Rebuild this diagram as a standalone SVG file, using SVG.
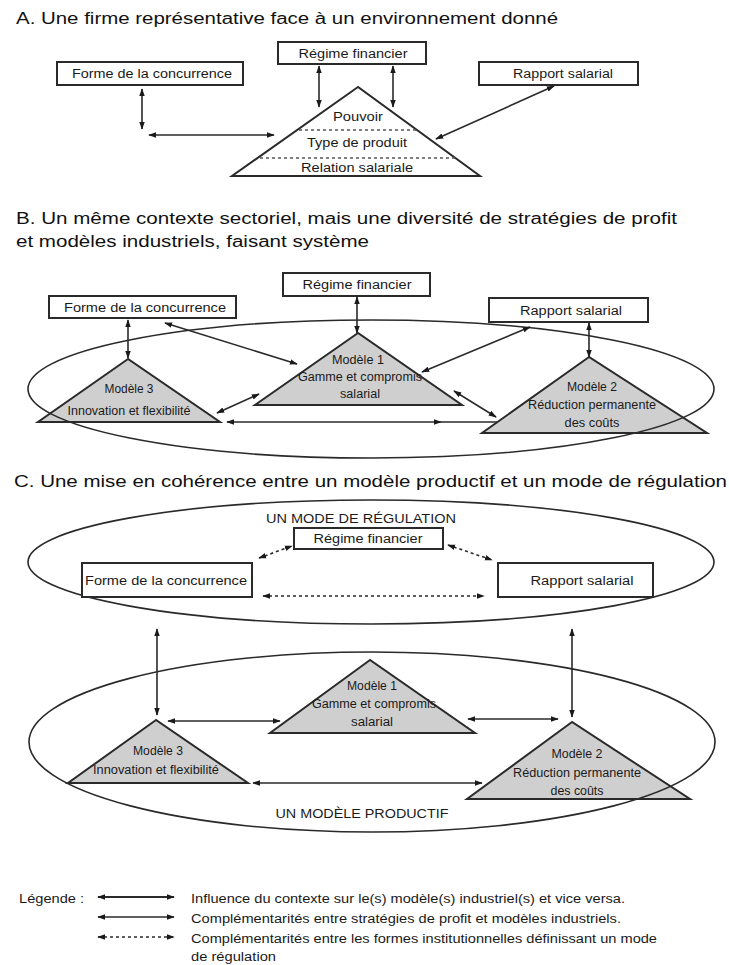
<svg xmlns="http://www.w3.org/2000/svg" width="729" height="965" viewBox="0 0 729 965">
<style>
text{font-family:"Liberation Sans Narrow","Liberation Sans",Arial,sans-serif;fill:#1a1a1a;}
.title{font-size:16px;fill:#111;}
.lbl{font-size:12.5px;text-anchor:middle;}
.leg{font-size:12.5px;}
.box{fill:#fff;stroke:#2a2a2a;stroke-width:2;}
.tri{fill:#fff;stroke:#2a2a2a;stroke-width:2;stroke-linejoin:miter;}
.tri.g{fill:#cfcfcf;}
.ell{fill:none;stroke:#2a2a2a;stroke-width:1.6;}
.dot{stroke:#555;stroke-width:1.3;stroke-dasharray:3 3;fill:none;}
.arr{stroke:#2a2a2a;stroke-width:1.6;fill:none;marker-start:url(#ah);marker-end:url(#ah);}
.arr.d{stroke-dasharray:3 3;}
.ln{stroke:#2a2a2a;stroke-width:1.6;fill:none;}
</style>
<defs>
<marker id="ah" viewBox="0 0 10 10" refX="9" refY="5" markerWidth="8" markerHeight="8" markerUnits="userSpaceOnUse" orient="auto-start-reverse">
<path d="M0,1.5 L10,5 L0,8.5 z" fill="#1a1a1a"/>
</marker>
</defs>

<!-- Section A -->
<g id="titleA"><text class="title" x="16" y="24" textLength="542" lengthAdjust="spacingAndGlyphs">A. Une firme représentative face à un environnement donné</text></g>
<g id="A-regime"><rect class="box" x="278" y="42" width="148" height="22"/><text class="lbl" x="353" y="58" textLength="109" lengthAdjust="spacingAndGlyphs">Régime financier</text></g>
<g id="A-forme"><rect class="box" x="57" y="62" width="186" height="23"/><text class="lbl" x="152" y="78" textLength="160" lengthAdjust="spacingAndGlyphs">Forme de la concurrence</text></g>
<g id="A-rapport"><rect class="box" x="479" y="62" width="159" height="23"/><text class="lbl" x="563" y="78" textLength="100" lengthAdjust="spacingAndGlyphs">Rapport salarial</text></g>
<g id="A-firme">
<polygon class="tri" points="358,87 232,176 480,176"/>
<line class="dot" x1="299" y1="130" x2="417" y2="130"/>
<line class="dot" x1="260" y1="158" x2="456" y2="158"/>
<text class="lbl" x="358" y="121" textLength="50" lengthAdjust="spacingAndGlyphs">Pouvoir</text>
<text class="lbl" x="357" y="147" textLength="100" lengthAdjust="spacingAndGlyphs">Type de produit</text>
<text class="lbl" x="357" y="172" textLength="112" lengthAdjust="spacingAndGlyphs">Relation salariale</text>
</g>
<g id="A-connectors">
<line class="arr" x1="142" y1="89" x2="142" y2="129"/>
<line class="arr" x1="149" y1="135" x2="274" y2="135"/>
<line class="arr" x1="319" y1="66" x2="319" y2="107"/>
<line class="arr" x1="393" y1="66" x2="393" y2="107"/>
<line class="arr" x1="554" y1="86" x2="436" y2="139"/>
</g>

<!-- Section B -->
<g id="titleB">
<text class="title" x="16" y="224" textLength="661" lengthAdjust="spacingAndGlyphs">B. Un même contexte sectoriel, mais une diversité de stratégies de profit</text>
<text class="title" x="16" y="247" textLength="353" lengthAdjust="spacingAndGlyphs">et modèles industriels, faisant système</text>
</g>
<g id="B-regime"><rect class="box" x="283" y="273" width="147" height="23"/><text class="lbl" x="357" y="289" textLength="109" lengthAdjust="spacingAndGlyphs">Régime financier</text></g>
<g id="B-forme"><rect class="box" x="49" y="296" width="187" height="22"/><text class="lbl" x="145" y="312" textLength="162" lengthAdjust="spacingAndGlyphs">Forme de la concurrence</text></g>
<g id="B-rapport"><rect class="box" x="489" y="298" width="159" height="24"/><text class="lbl" x="571" y="315" textLength="102" lengthAdjust="spacingAndGlyphs">Rapport salarial</text></g>
<g id="B-modele1">
<polygon class="tri g" points="358,333 255,405 462,405"/>
<text class="lbl" x="358" y="364" textLength="52" lengthAdjust="spacingAndGlyphs">Modèle 1</text>
<text class="lbl" x="360" y="381" textLength="124" lengthAdjust="spacingAndGlyphs">Gamme et compromis</text>
<text class="lbl" x="360" y="398" textLength="40" lengthAdjust="spacingAndGlyphs">salarial</text>
</g>
<g id="B-modele3">
<polygon class="tri g" points="128,359 38,422 220,422"/>
<text class="lbl" x="129" y="393" textLength="49" lengthAdjust="spacingAndGlyphs">Modèle 3</text>
<text class="lbl" x="129" y="415" textLength="123" lengthAdjust="spacingAndGlyphs">Innovation et flexibilité</text>
</g>
<g id="B-modele2">
<polygon class="tri g" points="589,357 482,433 707,433"/>
<text class="lbl" x="592" y="391" textLength="50" lengthAdjust="spacingAndGlyphs">Modèle 2</text>
<text class="lbl" x="592" y="409" textLength="128" lengthAdjust="spacingAndGlyphs">Réduction permanente</text>
<text class="lbl" x="592" y="427" textLength="55" lengthAdjust="spacingAndGlyphs">des coûts</text>
</g>
<g id="B-context"><ellipse class="ell" cx="371" cy="389" rx="343" ry="69"/></g>
<g id="B-connectors">
<line class="arr" x1="128" y1="320" x2="128" y2="358"/>
<line class="arr" x1="165" y1="323" x2="297" y2="364"/>
<line class="arr" x1="357" y1="297" x2="357" y2="333"/>
<line class="arr" x1="589" y1="323" x2="589" y2="357"/>
<line class="arr" x1="530" y1="327" x2="422" y2="372"/>
<line class="arr" x1="259" y1="394" x2="217" y2="413"/>
<line class="arr" x1="454" y1="391" x2="496" y2="417"/>
<line class="arr" x1="227" y1="422" x2="441" y2="422"/>
<line class="ln" x1="441" y1="422" x2="497" y2="422"/>
</g>

<!-- Section C -->
<g id="titleC"><text class="title" x="14" y="487" textLength="713" lengthAdjust="spacingAndGlyphs">C. Une mise en cohérence entre un modèle productif et un mode de régulation</text></g>
<g id="C-regulation">
<ellipse class="ell" cx="371" cy="562" rx="343" ry="62"/>
<text class="lbl" x="361" y="523" textLength="190" lengthAdjust="spacingAndGlyphs">UN MODE DE RÉGULATION</text>
</g>
<g id="C-regime"><rect class="box" x="294" y="528" width="149" height="21"/><text class="lbl" x="368" y="543" textLength="109" lengthAdjust="spacingAndGlyphs">Régime financier</text></g>
<g id="C-forme"><rect class="box" x="82" y="563" width="170" height="34"/><text class="lbl" x="166" y="585" textLength="162" lengthAdjust="spacingAndGlyphs">Forme de la concurrence</text></g>
<g id="C-rapport"><rect class="box" x="498" y="563" width="155" height="34"/><text class="lbl" x="582" y="585" textLength="103" lengthAdjust="spacingAndGlyphs">Rapport salarial</text></g>
<g id="C-modele1">
<polygon class="tri g" points="370,660 270,733 475,733"/>
<text class="lbl" x="372" y="690" textLength="50" lengthAdjust="spacingAndGlyphs">Modèle 1</text>
<text class="lbl" x="374" y="708" textLength="124" lengthAdjust="spacingAndGlyphs">Gamme et compromis</text>
<text class="lbl" x="372" y="726" textLength="42" lengthAdjust="spacingAndGlyphs">salarial</text>
</g>
<g id="C-modele3">
<polygon class="tri g" points="156,720 68,783 248,783"/>
<text class="lbl" x="158" y="755" textLength="50" lengthAdjust="spacingAndGlyphs">Modèle 3</text>
<text class="lbl" x="156" y="774" textLength="126" lengthAdjust="spacingAndGlyphs">Innovation et flexibilité</text>
</g>
<g id="C-modele2">
<polygon class="tri g" points="572,722 467,799 690,799"/>
<text class="lbl" x="577" y="758" textLength="51" lengthAdjust="spacingAndGlyphs">Modèle 2</text>
<text class="lbl" x="577" y="777" textLength="128" lengthAdjust="spacingAndGlyphs">Réduction permanente</text>
<text class="lbl" x="577" y="795" textLength="53" lengthAdjust="spacingAndGlyphs">des coûts</text>
</g>
<g id="C-productif">
<ellipse class="ell" cx="372" cy="742" rx="343" ry="90"/>
<text class="lbl" x="362" y="818" textLength="173" lengthAdjust="spacingAndGlyphs">UN MODÈLE PRODUCTIF</text>
</g>
<g id="C-connectors">
<line class="arr d" x1="259" y1="558" x2="292" y2="546"/>
<line class="arr d" x1="448" y1="545" x2="492" y2="560"/>
<line class="arr d" x1="263" y1="596" x2="484" y2="596"/>
<line class="arr" x1="157" y1="629" x2="157" y2="715"/>
<line class="arr" x1="572" y1="629" x2="572" y2="717"/>
<line class="arr" x1="168" y1="721" x2="280" y2="721"/>
<line class="arr" x1="468" y1="719" x2="558" y2="719"/>
<line class="arr" x1="253" y1="783" x2="482" y2="783"/>
</g>

<!-- Legend -->
<g id="legend">
<text class="leg" x="19" y="903" textLength="65" lengthAdjust="spacingAndGlyphs">Légende :</text>
<line class="arr" x1="98" y1="897" x2="174" y2="897" style="stroke-width:2"/>
<text class="leg" x="191" y="903" textLength="434" lengthAdjust="spacingAndGlyphs">Influence du contexte sur le(s) modèle(s) industriel(s) et vice versa.</text>
<line class="arr" x1="98" y1="917" x2="174" y2="917"/>
<text class="leg" x="191" y="923" textLength="430" lengthAdjust="spacingAndGlyphs">Complémentarités entre stratégies de profit et modèles industriels.</text>
<line class="arr d" x1="98" y1="937" x2="174" y2="937"/>
<text class="leg" x="191" y="943" textLength="466" lengthAdjust="spacingAndGlyphs">Complémentarités entre les formes institutionnelles définissant un mode</text>
<text class="leg" x="191" y="961" textLength="85" lengthAdjust="spacingAndGlyphs">de régulation</text>
</g>
</svg>
